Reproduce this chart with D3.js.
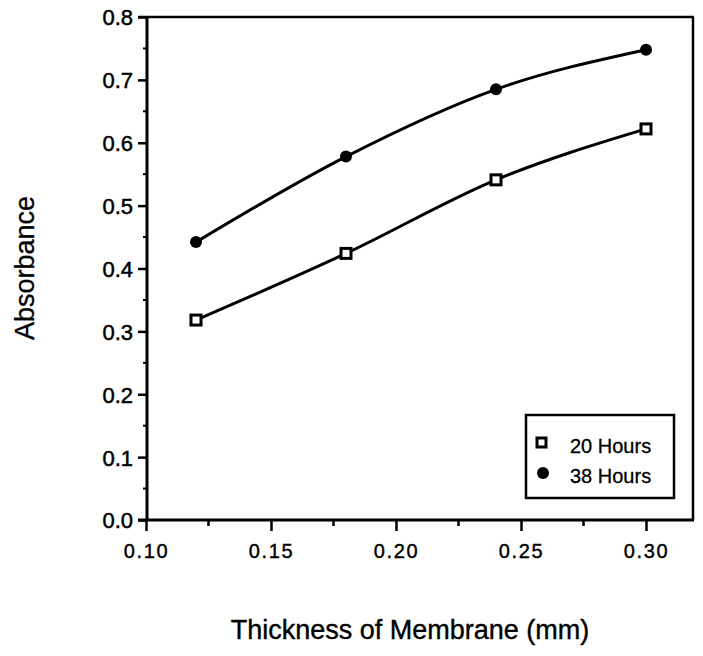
<!DOCTYPE html>
<html>
<head>
<meta charset="utf-8">
<script src="https://cdn.jsdelivr.net/npm/d3@7"></script>
<style>
  html, body { margin: 0; padding: 0; background: #fff; }
  svg { display: block; }
  text { font-family: "Liberation Sans", Arial, Helvetica, sans-serif; fill: #000; }
</style>
</head>
<body>
<script>
// Membrane thickness (mm) and absorbance readings
const thickness = [0.12, 0.18, 0.24, 0.30];
const hours20 = [0.318, 0.424, 0.541, 0.622];
const hours38 = [0.442, 0.578, 0.685, 0.748];
const xTicks = [0.10, 0.15, 0.20, 0.25, 0.30];
const yTicks = [0.0, 0.1, 0.2, 0.3, 0.4, 0.5, 0.6, 0.7, 0.8];
const seriesNames = ["20 Hours", "38 Hours"];

const W = 703, H = 656;
const plotL = 147, plotR = 693, plotT = 17, plotB = 520;

const svg = d3.select("body").append("svg").attr("width", W).attr("height", H);

const x = d3.scaleLinear().domain([0.10, 0.30]).range([146, 646]);
const y = d3.scaleLinear().domain([0, 0.8]).range([plotB, plotT]);

// Frame: right and top edges
svg.append("line").attr("x1", plotR).attr("x2", plotR).attr("y1", plotT).attr("y2", plotB)
  .attr("stroke", "#000").attr("stroke-width", 2.5);
svg.append("line").attr("x1", plotL - 9).attr("x2", plotR + 1).attr("y1", plotT).attr("y2", plotT)
  .attr("stroke", "#000").attr("stroke-width", 2.5);

// Y axis
const yAxis = svg.append("g").attr("transform", `translate(${plotL},0)`)
  .call(d3.axisLeft(y).tickValues(yTicks).tickFormat(d3.format(".1f")).tickSize(9).tickSizeOuter(0));
yAxis.select(".domain").attr("stroke-width", 3).attr("d", `M0,${plotT}V${plotB + 1}`);
yAxis.selectAll(".tick line").attr("stroke-width", 2.5);
yAxis.selectAll(".tick text").attr("font-size", 22).attr("x", -14).attr("dy", "0.36em")
  .attr("stroke", "#000").attr("stroke-width", 0.5);

// Y minor ticks
const yMinor = d3.range(0.05, 0.8, 0.1);
svg.append("g").selectAll("line").data(yMinor).join("line")
  .attr("x1", plotL - 4).attr("x2", plotL).attr("y1", d => y(d)).attr("y2", d => y(d))
  .attr("stroke", "#000").attr("stroke-width", 2);

// X axis
const xAxis = svg.append("g").attr("transform", `translate(0,${plotB})`)
  .call(d3.axisBottom(x).tickValues(xTicks).tickFormat(d3.format(".2f")).tickSize(11).tickSizeOuter(0));
xAxis.select(".domain").attr("stroke-width", 3).attr("d", `M${plotL - 9},0H${plotR + 1}`);
xAxis.selectAll(".tick line").attr("stroke-width", 2.5);
xAxis.selectAll(".tick text").attr("font-size", 20).attr("y", 24).attr("dy", "0.71em")
  .attr("letter-spacing", 1.6).attr("stroke", "#000").attr("stroke-width", 0.4);

// X minor ticks
const xMinor = [0.125, 0.175, 0.225, 0.275];
svg.append("g").selectAll("line").data(xMinor).join("line")
  .attr("x1", d => x(d)).attr("x2", d => x(d)).attr("y1", plotB).attr("y2", plotB + 6)
  .attr("stroke", "#000").attr("stroke-width", 2.5);

// Axis titles
svg.append("text").attr("x", 410).attr("y", 639).attr("text-anchor", "middle")
  .attr("font-size", 27).attr("stroke", "#000").attr("stroke-width", 0.4)
  .text("Thickness of Membrane (mm)");
svg.append("text").attr("transform", "translate(34,268) rotate(-90)").attr("text-anchor", "middle")
  .attr("font-size", 27).attr("stroke", "#000").attr("stroke-width", 0.3)
  .text("Absorbance");

// Curves
const line = d3.line().x(d => x(d[0])).y(d => y(d[1])).curve(d3.curveMonotoneX);
[hours20, hours38].forEach(vals => {
  svg.append("path").datum(thickness.map((t, i) => [t, vals[i]]))
    .attr("d", line).attr("fill", "none").attr("stroke", "#000").attr("stroke-width", 3);
});

// Markers
svg.append("g").selectAll("rect").data(thickness.map((t, i) => [t, hours20[i]])).join("rect")
  .attr("x", d => x(d[0]) - 5).attr("y", d => y(d[1]) - 5).attr("width", 10).attr("height", 10)
  .attr("fill", "#fff").attr("stroke", "#000").attr("stroke-width", 3);
svg.append("g").selectAll("circle").data(thickness.map((t, i) => [t, hours38[i]])).join("circle")
  .attr("cx", d => x(d[0])).attr("cy", d => y(d[1])).attr("r", 6).attr("fill", "#000");

// Legend
const lg = svg.append("g");
lg.append("rect").attr("x", 526).attr("y", 415).attr("width", 148).attr("height", 83)
  .attr("fill", "#fff").attr("stroke", "#000").attr("stroke-width", 2.5);
lg.append("rect").attr("x", 537).attr("y", 438).attr("width", 9).attr("height", 9)
  .attr("fill", "#fff").attr("stroke", "#000").attr("stroke-width", 3);
lg.append("circle").attr("cx", 543).attr("cy", 473).attr("r", 6).attr("fill", "#000");
lg.selectAll("text.lbl").data(seriesNames).join("text").attr("class", "lbl")
  .attr("x", 570).attr("y", (d, i) => 453 + i * 30).attr("font-size", 20)
  .attr("stroke", "#000").attr("stroke-width", 0.3).text(d => d);
</script>
</body>
</html>
